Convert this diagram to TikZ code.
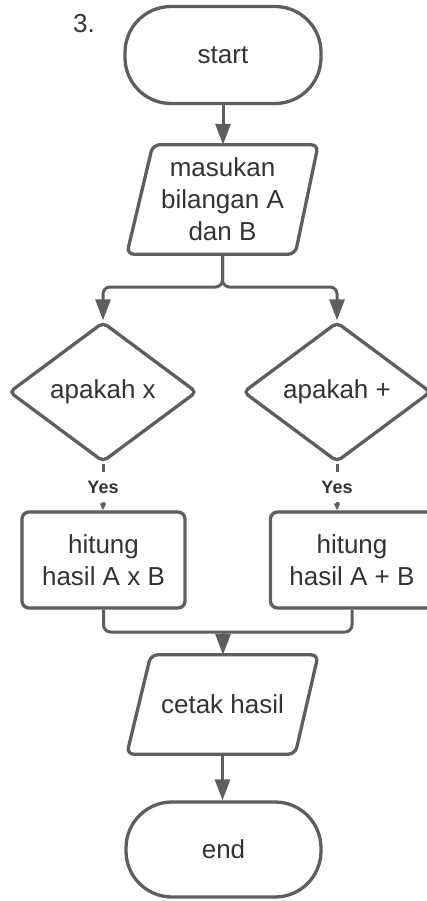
\documentclass[tikz,border=0pt]{standalone}
\usepackage{fontspec}
\setmainfont{Liberation Sans}
\usetikzlibrary{shapes.geometric,arrows.meta,calc}
\definecolor{strokegray}{HTML}{5E5E5E}
\definecolor{textgray}{HTML}{333333}
\begin{document}
\begin{tikzpicture}[x=1pt,y=-1pt,
  every node/.style={text=textgray,font=\fontsize{26}{32}\selectfont,align=center},
  term/.style={draw=strokegray,line width=3.3pt,rectangle,rounded corners=46pt,minimum width=196pt,minimum height=97pt,inner sep=0pt},
  iobox/.style={draw=none,rectangle,inner sep=0pt},
  decision/.style={draw=strokegray,line width=3.3pt,diamond,aspect=1.343,minimum width=188pt,minimum height=140pt,inner sep=0pt,rounded corners=5pt},
  procbox/.style={draw=strokegray,line width=3.3pt,rectangle,rounded corners=7pt,minimum width=163pt,minimum height=96pt,inner sep=0pt},
  ioshape/.style={draw=strokegray,line width=3.3pt,rounded corners=7pt},
  conn/.style={draw=strokegray,line width=3pt,rounded corners=7pt},
  bigarrow/.style={-{Triangle[width=15pt,length=21pt]}},
  smallarrow/.style={-{Triangle[width=6pt,length=7pt]}},
  yeslabel/.style={fill=white,font=\bfseries\fontsize{18}{20}\selectfont,inner xsep=2pt,inner ysep=0pt,minimum height=30pt}
]
\useasboundingbox (0,0) rectangle (426,901);

\node[anchor=base west,inner sep=0pt] (num) at (73,33) {3.};

\node[term] (start) at (223,55) {start};

\node[iobox,minimum width=191pt,minimum height=109pt] (in1) at (222.5,199.5) {masukan\\bilangan A\\dan B};
\draw[ioshape] ($(in1.north west)+(26,0)$) -- (in1.north east) -- ($(in1.south east)+(-23,0)$) -- (in1.south west) -- cycle;

\node[decision] (d1) at (103,392) {apakah x};
\node[decision] (d2) at (337,392) {apakah +};

\node[procbox] (b1) at (103.5,560) {hitung\\hasil A x B};
\node[procbox] (b2) at (352,560) {hitung\\hasil A + B};

\node[iobox,minimum width=191pt,minimum height=99pt] (in2) at (222.5,704.5) {cetak hasil};
\draw[ioshape] ($(in2.north west)+(24,0)$) -- (in2.north east) -- ($(in2.south east)+(-23,0)$) -- (in2.south west) -- cycle;

\node[term,minimum width=195pt,minimum height=95pt] (end) at (223.5,849.5) {end};

\coordinate (split) at (222.5,287);
\coordinate (merge) at (223,632);

\draw[conn,bigarrow] (start.south) -- (start.south |- in1.north);
\draw[conn,bigarrow] (in1.south) -- (split) -| (d1.north);
\draw[conn,bigarrow] (in1.south) -- (split) -| (d2.north);
\draw[conn,smallarrow] (d1.south) -- node[yeslabel,pos=0.5] {Yes} (d1.south |- b1.north);
\draw[conn,smallarrow] (d2.south) -- node[yeslabel,pos=0.5] {Yes} (d2.south |- b2.north);
\draw[conn] (b1.south) |- (merge);
\draw[conn] (b2.south) |- (merge);
\draw[conn,bigarrow] (merge) -- (merge |- in2.north);
\draw[conn,bigarrow] (in2.south) -- (in2.south |- end.north);
\end{tikzpicture}
\end{document}
